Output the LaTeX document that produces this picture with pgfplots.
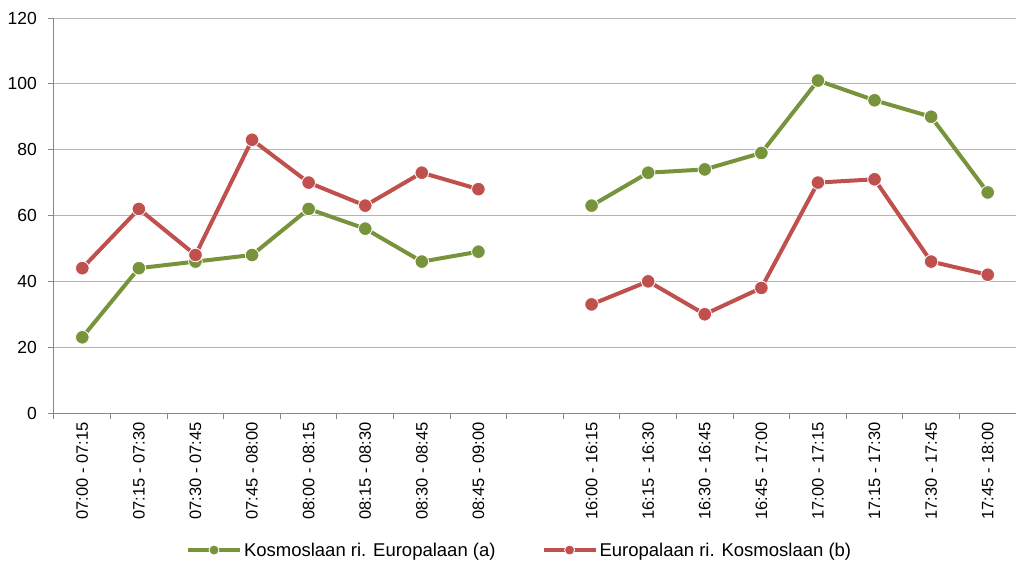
\documentclass[border=0pt]{standalone}
\usepackage{fontspec}
\setmainfont{Liberation Sans}
\usepackage{pgfplots}
\pgfplotsset{compat=1.18}
\definecolor{cgreen}{HTML}{77933C}
\definecolor{cred}{HTML}{C0504D}
\definecolor{gridc}{HTML}{B4B4B4}
\definecolor{axc}{HTML}{888888}
\begin{document}
\begin{tikzpicture}
\begin{axis}[
  scale only axis, width=962pt, height=395pt,
  xmin=-0.5, xmax=16.5, ymin=0, ymax=120,
  /pgf/number format/assume math mode=true,
  axis x line*=bottom, axis y line*=left,
  axis line style={-, draw=axc, line width=1pt},
  ytick={0,20,...,120},
  ymajorgrids, major grid style={draw=gridc, line width=1pt},
  tick align=outside, major tick length=6pt,
  tick style={draw=axc, line width=1pt},
  xtick={-0.5,0.5,...,16.5}, xticklabels={},
  extra x ticks={0,1,2,3,4,5,6,7,9,10,11,12,13,14,15,16},
  extra x tick labels={07:00 - 07:15,07:15 - 07:30,07:30 - 07:45,07:45 - 08:00,08:00 - 08:15,08:15 - 08:30,08:30 - 08:45,08:45 - 09:00,16:00 - 16:15,16:15 - 16:30,16:30 - 16:45,16:45 - 17:00,17:00 - 17:15,17:15 - 17:30,17:30 - 17:45,17:45 - 18:00},
  extra x tick style={major tick length=0pt, tick style={draw=none},
    xticklabel style={yshift=-9pt, rotate=90, anchor=east, inner sep=0pt, font=\fontsize{16.5}{19}\selectfont}},
  yticklabel style={font=\fontsize{17.5}{20}\selectfont, inner sep=0pt, xshift=-11pt},
  unbounded coords=jump,
  legend columns=2,
  legend style={at={(0.484,-0.347)}, anchor=center, draw=none, font=\fontsize{18.5}{21}\selectfont,
    /tikz/every even column/.append style={column sep=44pt}},
  legend image code/.code={\draw[mark repeat=2,mark phase=2,mark size=5pt] plot coordinates {(0pt,0pt)(26pt,0pt)(52pt,0pt)};},
]
\addplot[color=cgreen, line width=4pt, mark=*, mark size=6.8pt, mark options={fill=cgreen, draw=white, line width=0.8pt}]
  coordinates {(0,23)(1,44)(2,46)(3,48)(4,62)(5,56)(6,46)(7,49)(8,nan)(9,63)(10,73)(11,74)(12,79)(13,101)(14,95)(15,90)(16,67)};
\addlegendentry{Kosmoslaan ri. Europalaan (a)}
\addplot[color=cred, line width=4pt, mark=*, mark size=6.8pt, mark options={fill=cred, draw=white, line width=0.8pt}]
  coordinates {(0,44)(1,62)(2,48)(3,83)(4,70)(5,63)(6,73)(7,68)(8,nan)(9,33)(10,40)(11,30)(12,38)(13,70)(14,71)(15,46)(16,42)};
\addlegendentry{Europalaan ri. Kosmoslaan (b)}
\end{axis}
\pgfresetboundingbox
\path[use as bounding box] ([shift={(-54pt,-150pt)}]current axis.south west) rectangle ([shift={(962pt,413pt)}]current axis.south west);
\end{tikzpicture}
\end{document}
